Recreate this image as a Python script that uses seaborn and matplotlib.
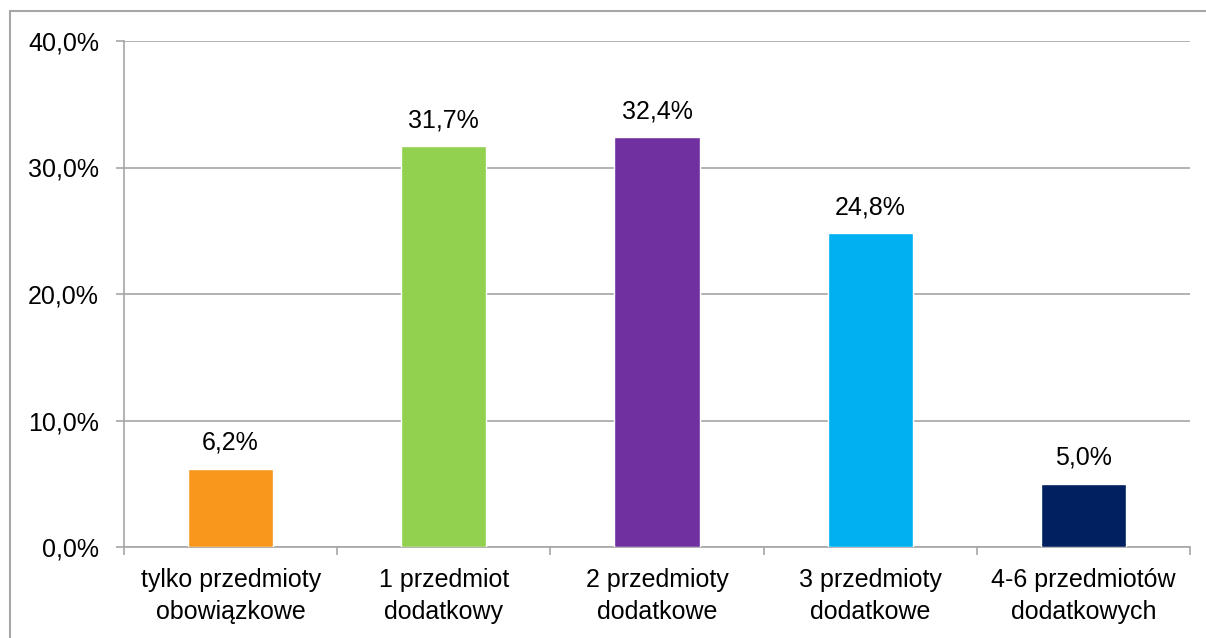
import matplotlib
matplotlib.use('Agg')
import matplotlib.pyplot as plt
import seaborn as sns
import pandas as pd
from matplotlib.patches import Rectangle
from matplotlib.ticker import FuncFormatter, FixedLocator

# data
categories = ['tylko przedmioty\nobowiązkowe', '1 przedmiot\ndodatkowy', '2 przedmioty\ndodatkowe',
              '3 przedmioty\ndodatkowe', '4-6 przedmiotów\ndodatkowych']
values = [6.2, 31.7, 32.4, 24.8, 5.0]
colors = ['#F7981D', '#92D050', '#7030A0', '#00B0F0', '#002060']
y_ticks = [0, 10, 20, 30, 40]

sns.set_theme(style='white')
plt.rcParams['font.family'] = ['Liberation Sans', 'DejaVu Sans']

df = pd.DataFrame({'cat': categories, 'val': values})

fig = plt.figure(figsize=(12.06, 6.38), dpi=100)
ax = fig.add_axes([124 / 1206, 1 - 547 / 638, (1190 - 124) / 1206, (547 - 41) / 638])

sns.barplot(data=df, x='cat', y='val', hue='cat', palette=colors, legend=False,
            width=0.4, saturation=1, ax=ax, zorder=3)

# outer chart frame
fig.patches.append(Rectangle((10 / 1206, -0.1), 1.1, 1.1 - 11 / 638,
                             transform=fig.transFigure, fill=False,
                             edgecolor='#A6A6A6', linewidth=1.5))

ax.set_ylim(0, 40)
ax.set_xlim(-0.5, 4.5)
ax.yaxis.set_major_locator(FixedLocator(y_ticks))
ax.yaxis.set_major_formatter(FuncFormatter(lambda v, p: f'{v:.1f}'.replace('.', ',') + '%'))
ax.grid(axis='y', color='#A6A6A6', linewidth=1.2, zorder=0)
ax.set_axisbelow(True)
for s in ['top', 'right']:
    ax.spines[s].set_visible(False)
for s in ['left', 'bottom']:
    ax.spines[s].set_color('#A6A6A6')
    ax.spines[s].set_linewidth(1.2)

ax.set_xlabel('')
ax.set_ylabel('')
ax.tick_params(axis='y', which='major', left=True, length=6, color='#A6A6A6', width=1.2,
               labelsize=18, pad=12, labelcolor='black')
ax.set_xticks(range(len(categories)))
ax.set_xticklabels(categories)
ax.set_xticks([i - 0.5 for i in range(len(categories) + 1)], minor=True)
ax.tick_params(axis='x', which='major', bottom=False, length=0, labelsize=18, pad=15, labelcolor='black')
ax.tick_params(axis='x', which='minor', bottom=True, length=6, color='#A6A6A6', width=1.2)
for lbl in ax.get_xticklabels():
    lbl.set_linespacing(1.45)

for c in ax.containers:
    ax.bar_label(c, labels=[f'{v:.1f}'.replace('.', ',') + '%' for v in c.datavalues],
                 padding=10, fontsize=18, color='black')

fig.savefig('out.png', dpi=100)
